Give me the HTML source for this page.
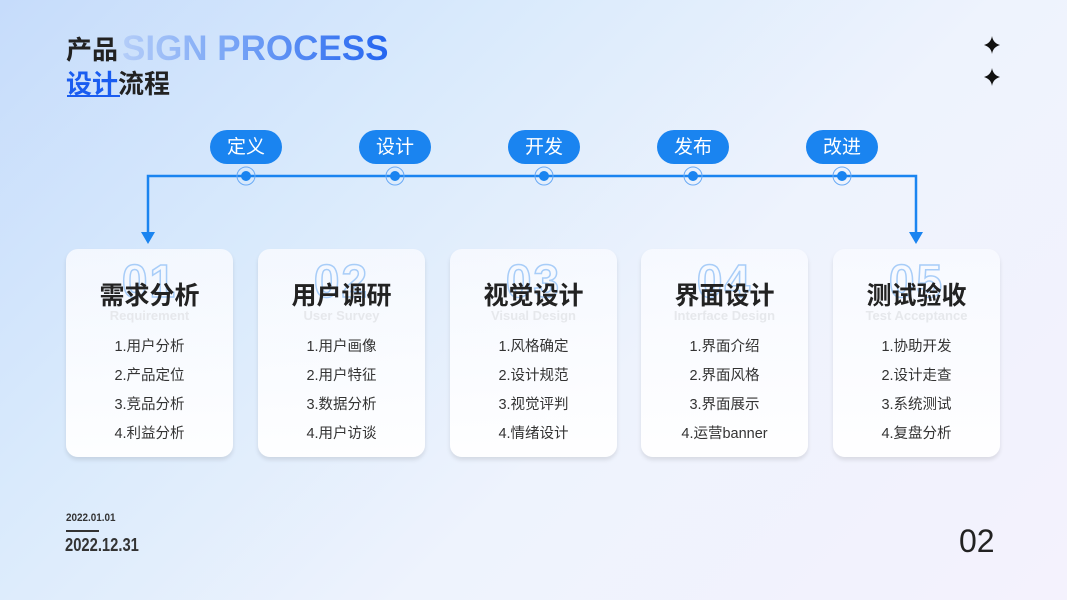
<!DOCTYPE html>
<html><head><meta charset="utf-8"><style>
*{margin:0;padding:0;box-sizing:border-box}
body{width:1067px;height:600px;overflow:hidden;position:relative;font-family:"Liberation Sans","Noto Sans CJK SC",sans-serif;
background:linear-gradient(135deg,#c6dcfb 0%,#d9eafc 30%,#eef3fd 60%,#f4f2fd 100%);}
.t{position:absolute;font-weight:bold;}
.card{position:absolute;top:249px;width:167px;height:208px;border-radius:12px;background:linear-gradient(180deg,rgba(248,250,255,.85),rgba(255,255,255,.95));box-shadow:0 3px 4px rgba(0,0,0,.1);text-align:center;overflow:hidden}
.num{position:absolute;top:5px;left:0;right:0;font-size:46px;font-weight:bold;color:transparent;-webkit-text-stroke:1.5px #a8cdf8;font-family:"Liberation Sans",sans-serif;letter-spacing:2px}
.h{position:absolute;top:27px;left:0;right:0;font-size:25px;font-weight:bold;color:#222}
.en{position:absolute;top:59px;left:0;right:0;font-size:13px;font-weight:bold;color:#e6e8ec}
.li{position:absolute;left:0;right:0;font-size:14.5px;color:#333}
.pill{position:absolute;top:130px;width:72px;height:34px;border-radius:17px;background:#1a84f0;color:#fff;font-size:19px;text-align:center;line-height:35px}
</style></head><body>
<div class="t" style="left:122px;top:29px;font-size:35px;background:linear-gradient(90deg,#b4cdf8,#7aa6f6 40%,#2465f0);-webkit-background-clip:text;color:transparent">SIGN PROCESS</div>
<div class="t" style="left:66px;top:30px;font-size:26px;color:#222">产品</div>
<div class="t" style="left:66px;top:64px;font-size:26px;color:#1a5cf0;">设计<span style="color:#222">流程</span></div>
<div style="position:absolute;left:67px;top:95px;width:53px;height:2px;background:#1a5cf0"></div>
<svg style="position:absolute;left:983px;top:36px" width="20" height="54"><path d="M9 0 Q10 7 17 9 Q10 11 9 18 Q8 11 1 9 Q8 7 9 0Z" fill="#111"/><path d="M9 32 Q10 39 17 41 Q10 43 9 50 Q8 43 1 41 Q8 39 9 32Z" fill="#111"/></svg>
<svg style="position:absolute;left:0;top:0" width="1067" height="260">
<polyline points="148,240 148,176 916,176 916,240" fill="none" stroke="#1a84f0" stroke-width="2.5"/>
<path d="M141,232 L155,232 L148,244Z M909,232 L923,232 L916,244Z" fill="#1a84f0"/>
<g fill="#1a84f0"><circle cx="246" cy="176" r="5"/><circle cx="395" cy="176" r="5"/><circle cx="544" cy="176" r="5"/><circle cx="693" cy="176" r="5"/><circle cx="842" cy="176" r="5"/></g>
<g fill="none" stroke="#6aaaf5" stroke-width="1"><circle cx="246" cy="176" r="9"/><circle cx="395" cy="176" r="9"/><circle cx="544" cy="176" r="9"/><circle cx="693" cy="176" r="9"/><circle cx="842" cy="176" r="9"/></g>
</svg>
<div class="pill" style="left:210px">定义</div>
<div class="pill" style="left:359px">设计</div>
<div class="pill" style="left:508px">开发</div>
<div class="pill" style="left:657px">发布</div>
<div class="pill" style="left:806px">改进</div>

<div class="card" style="left:66px"><div class="num">01</div><div class="h">需求分析</div><div class="en">Requirement</div>
<div class="li" style="top:86px">1.用户分析</div><div class="li" style="top:115px">2.产品定位</div><div class="li" style="top:144px">3.竞品分析</div><div class="li" style="top:173px">4.利益分析</div></div>
<div class="card" style="left:258px"><div class="num">02</div><div class="h">用户调研</div><div class="en">User Survey</div>
<div class="li" style="top:86px">1.用户画像</div><div class="li" style="top:115px">2.用户特征</div><div class="li" style="top:144px">3.数据分析</div><div class="li" style="top:173px">4.用户访谈</div></div>
<div class="card" style="left:450px"><div class="num">03</div><div class="h">视觉设计</div><div class="en">Visual Design</div>
<div class="li" style="top:86px">1.风格确定</div><div class="li" style="top:115px">2.设计规范</div><div class="li" style="top:144px">3.视觉评判</div><div class="li" style="top:173px">4.情绪设计</div></div>
<div class="card" style="left:641px"><div class="num">04</div><div class="h">界面设计</div><div class="en">Interface Design</div>
<div class="li" style="top:86px">1.界面介绍</div><div class="li" style="top:115px">2.界面风格</div><div class="li" style="top:144px">3.界面展示</div><div class="li" style="top:173px">4.运营banner</div></div>
<div class="card" style="left:833px"><div class="num">05</div><div class="h">测试验收</div><div class="en">Test Acceptance</div>
<div class="li" style="top:86px">1.协助开发</div><div class="li" style="top:115px">2.设计走查</div><div class="li" style="top:144px">3.系统测试</div><div class="li" style="top:173px">4.复盘分析</div></div>

<div class="t" style="left:66px;top:512px;font-size:11px;color:#333;transform:scaleX(.9);transform-origin:left">2022.01.01</div>
<div style="position:absolute;left:66px;top:530px;width:33px;height:1.5px;background:#333"></div>
<div class="t" style="left:65px;top:535px;font-size:18px;color:#333;transform:scaleX(.82);transform-origin:left">2022.12.31</div>
<div style="position:absolute;left:959px;top:523px;font-size:32px;color:#222">02</div>
</body></html>
